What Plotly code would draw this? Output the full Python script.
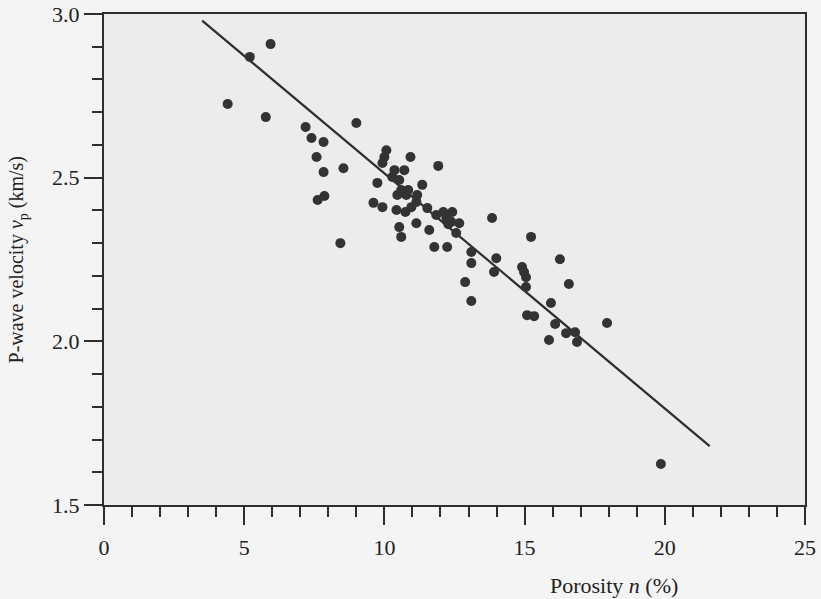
import plotly.graph_objects as go

# Porosity (%) and P-wave velocity (km/s)
porosity = [4.41, 5.20, 5.94, 5.77, 7.19, 7.40, 7.83, 7.58, 7.83, 8.54,
            9.00, 7.62, 7.86, 8.43, 10.07, 10.00, 9.93, 10.93, 10.71, 11.92,
            9.75, 10.28, 10.53, 11.35, 10.60, 10.46, 10.78, 11.17, 11.14, 9.61,
            9.93, 10.43, 10.75, 10.96, 11.53, 11.85, 11.14, 11.60, 10.53, 10.60,
            12.21, 12.42, 12.38, 12.67, 12.56, 11.78, 12.24, 13.84, 13.10, 13.10,
            12.88, 13.10, 13.99, 13.91, 15.23, 14.91, 15.05, 15.05, 16.26, 16.58,
            15.09, 15.34, 15.94, 16.09, 15.87, 16.48, 16.80, 16.87, 17.94, 19.86,
            10.36, 10.85, 12.10, 12.28, 14.98]
velocity = [2.725, 2.869, 2.908, 2.685, 2.655, 2.621, 2.609, 2.563, 2.517, 2.529,
            2.667, 2.432, 2.444, 2.300, 2.584, 2.563, 2.545, 2.563, 2.523, 2.536,
            2.484, 2.502, 2.493, 2.478, 2.462, 2.447, 2.447, 2.447, 2.426, 2.423,
            2.410, 2.401, 2.395, 2.410, 2.407, 2.386, 2.361, 2.340, 2.349, 2.319,
            2.377, 2.395, 2.365, 2.361, 2.331, 2.288, 2.288, 2.377, 2.273, 2.239,
            2.181, 2.123, 2.254, 2.212, 2.319, 2.227, 2.196, 2.166, 2.251, 2.175,
            2.080, 2.077, 2.117, 2.053, 2.004, 2.025, 2.028, 1.998, 2.056, 1.625,
            2.523, 2.462, 2.395, 2.358, 2.212]

# Regression line end points
fit_porosity = [3.5, 21.6]
fit_velocity = [2.98, 1.68]

x_ticks = [0, 5, 10, 15, 20, 25]
y_ticks = [1.5, 2.0, 2.5, 3.0]
y_tick_labels = ["1.5", "2.0", "2.5", "3.0"]

ink = "#2e2e2e"
font_family = "Liberation Serif"

fig = go.Figure()
fig.add_trace(go.Scatter(x=fit_porosity, y=fit_velocity, mode="lines",
                         line=dict(color=ink, width=2.2), showlegend=False,
                         hoverinfo="skip"))
fig.add_trace(go.Scatter(x=porosity, y=velocity, mode="markers",
                         marker=dict(color="#333333", size=10, line=dict(width=0)),
                         showlegend=False))

axis_common = dict(showgrid=False, zeroline=False, showline=True, linecolor=ink,
                   linewidth=2, mirror=True, ticks="outside", tickcolor=ink,
                   tickwidth=1.5, ticklen=18, automargin=False,
                   tickfont=dict(family=font_family, size=22, color="#222"))

fig.update_xaxes(range=[0, 25], tickvals=x_ticks, ticklabelstandoff=4,
                 minor=dict(dtick=1, ticks="outside", ticklen=10, tickcolor=ink, tickwidth=1.5),
                 **axis_common)
fig.update_yaxes(range=[1.5, 3.0], tickvals=y_ticks, ticktext=y_tick_labels,
                 minor=dict(dtick=0.1, ticks="outside", ticklen=10, tickcolor=ink, tickwidth=1.5),
                 **axis_common)

fig.add_annotation(text="P-wave velocity <i>v</i><sub>p</sub> (km/s)", xref="paper", yref="paper",
                   x=-0.1227, y=0.5, xanchor="center", yanchor="middle",
                   textangle=-90, showarrow=False,
                   font=dict(family=font_family, size=20, color="#222"))
fig.add_annotation(text="Porosity <i>n</i> (%)", xref="paper", yref="paper",
                   x=0.727, y=-0.163, xanchor="center", yanchor="middle", showarrow=False,
                   font=dict(family=font_family, size=22, color="#222"))

fig.update_layout(width=821, height=599,
                  margin=dict(l=104, r=16, t=14, b=94, autoexpand=False),
                  paper_bgcolor="#f4f4f4", plot_bgcolor="#ececec")

fig.write_html("out.html", config={"displayModeBar": False},
               post_script="document.body.style.margin='0';")
